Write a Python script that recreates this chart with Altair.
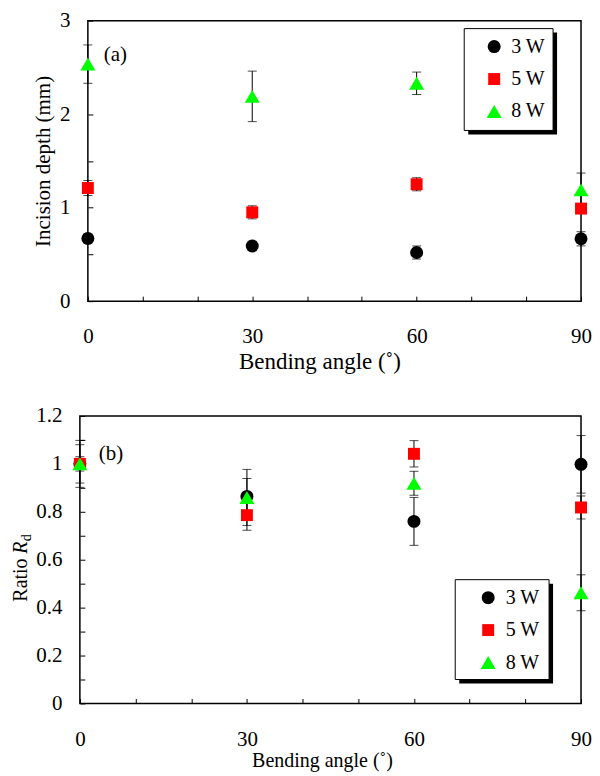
import altair as alt
import pandas as pd

FONT = "Liberation Serif"

angles = [0, 30, 60, 90]
series_names = ["3 W", "5 W", "8 W"]
series_colors = ["#000000", "#ff0000", "#00ff00"]
# unit-box symbol paths: circle 13 px, square 12 px, triangle 15x13 px at size 169
series_shapes = ["circle", "M-0.92,-0.92H0.92V0.92H-0.92Z", "M0,-1L1.154,1L-1.154,1Z"]

# (a) incision depth (mm)
depth_3w = [0.67, 0.59, 0.52, 0.667]
depth_3w_err = [0.05, 0.05, 0.07, 0.076]
depth_5w = [1.21, 0.95, 1.25, 0.99]
depth_5w_err = [0.08, 0.07, 0.07, 0.05]
depth_8w = [2.535, 2.19, 2.33, 1.19]
depth_8w_err = [0.205, 0.27, 0.12, 0.18]

# (b) ratio Rd
ratio_3w = [1.0, 0.864, 0.76, 0.998]
ratio_3w_err = [0.08, 0.075, 0.10, 0.12]
ratio_5w = [1.0, 0.786, 1.042, 0.818]
ratio_5w_err = [0.03, 0.063, 0.055, 0.048]
ratio_8w = [1.0, 0.86, 0.919, 0.462]
ratio_8w_err = [0.098, 0.117, 0.05, 0.075]

depth_ticks = [0, 0.5, 1, 1.5, 2, 2.5, 3]
ratio_ticks = [round(i * 0.1, 1) for i in range(13)]
angle_ticks = list(range(0, 91, 10))


def build_df(values_list, errs_list):
    rows = []
    for name, vals, errs in zip(series_names, values_list, errs_list):
        for a, v, e in zip(angles, vals, errs):
            rows.append({"angle": a, "series": name, "value": v,
                         "lo": v - e, "hi": v + e})
    return pd.DataFrame(rows)


depth_df = build_df([depth_3w, depth_5w, depth_8w],
                    [depth_3w_err, depth_5w_err, depth_8w_err])
ratio_df = build_df([ratio_3w, ratio_5w, ratio_8w],
                    [ratio_3w_err, ratio_5w_err, ratio_8w_err])
one = pd.DataFrame({"k": [0]})


def panel(df, ymax, yticks, ylabel_expr, ytitle, title_x, title_size,
          xlabel_pad, xtitle_pad, leg_x, leg_y, leg_off, box, tag, tag_pos,
          left_ext, width, height, inset=0, extra=None):
    xaxis = alt.Axis(values=angle_ticks,
                     labelExpr="datum.value % 30 == 0 ? datum.label : ''",
                     title="Bending angle (˚)", tickSize=5, offset=-5,
                     domain=False, grid=False, labelPadding=xlabel_pad,
                     labelFlush=False, titleFontSize=title_size,
                     titlePadding=xtitle_pad, titleX=title_x)
    yaxis = alt.Axis(values=yticks, labelExpr=ylabel_expr, title=ytitle,
                     tickSize=5, offset=-5 - inset, domain=False, grid=False,
                     labelFlush=False, labelPadding=18, titlePadding=6)
    xenc = alt.X("angle:Q",
                 scale=alt.Scale(domain=[0, 90], nice=False, zero=False,
                                 range=[inset, width]),
                 axis=xaxis)
    yscale = alt.Scale(domain=[0, ymax], nice=False, padding=0)
    leg = alt.Legend(title=None, orient="none", legendX=leg_x, legendY=leg_y,
                     labelFont=FONT, labelFontSize=20, labelColor="black",
                     labelOffset=leg_off, rowPadding=12.5, padding=0,
                     symbolSize=169, symbolStrokeWidth=0, symbolOpacity=1)
    bx, bx2, by, by2 = box
    border = alt.Chart(one).mark_rect(fillOpacity=0, stroke="black", strokeWidth=1.5).encode(
        x=alt.value(inset), x2=alt.value(width), y=alt.value(0), y2=alt.value(height))
    shadow = alt.Chart(one).mark_rect(color="black").encode(
        x=alt.value(bx + 4), x2=alt.value(bx2 + 4),
        y=alt.value(by + 4), y2=alt.value(by2 + 4))
    frame = alt.Chart(one).mark_rect(fill="white", stroke="black", strokeWidth=1).encode(
        x=alt.value(bx), x2=alt.value(bx2), y=alt.value(by), y2=alt.value(by2))
    bars = alt.Chart(df).mark_errorbar(ticks={"size": 9}, color="black",
                                       thickness=1).encode(
        x=xenc, y=alt.Y("lo:Q", scale=yscale, axis=yaxis), y2="hi:Q")
    points = alt.Chart(df).mark_point(filled=True, opacity=1, strokeWidth=0,
                                      size=169).encode(
        x=xenc,
        y=alt.Y("value:Q", scale=yscale, axis=yaxis),
        color=alt.Color("series:N", scale=alt.Scale(domain=series_names, range=series_colors), legend=leg),
        shape=alt.Shape("series:N", scale=alt.Scale(domain=series_names, range=series_shapes), legend=leg),
    )
    label = alt.Chart(one).mark_text(font=FONT, fontSize=21, align="left",
                                     baseline="middle", color="black").encode(
        x=alt.value(tag_pos[0]), y=alt.value(tag_pos[1]), text=alt.value(tag))
    spacer = alt.Chart(one).mark_rule(color="white", strokeWidth=1).encode(
        x=alt.value(left_ext), x2=alt.value(left_ext + 1), y=alt.value(height / 2))
    layers = [spacer, border, shadow, frame, bars, points, label]
    if extra:
        layers += extra
    return alt.layer(*layers).properties(
        width=width, height=height,
        view=alt.ViewBackground(stroke="transparent"))


top = panel(depth_df, 3, depth_ticks,
            "datum.value % 1 == 0 ? format(datum.value, '~g') : ''",
            "Incision depth (mm)", 240, 23, 24, 4,
            405, 16, 7, (385, 474, 8, 110),
            "(a)", (24, 34), -71, 502, 281, inset=8)

ratio_title = [
    alt.Chart(one).mark_text(font=FONT, fontSize=20, angle=270, align="left",
                             baseline="alphabetic", color="black").encode(
        x=alt.value(-53), y=alt.value(186), text=alt.value("Ratio")),
    alt.Chart(one).mark_text(font=FONT, fontSize=20, angle=270, align="left",
                             baseline="alphabetic", fontStyle="italic",
                             color="black").encode(
        x=alt.value(-53), y=alt.value(138), text=alt.value("R")),
    alt.Chart(one).mark_text(font=FONT, fontSize=14, angle=270, align="left",
                             baseline="alphabetic", color="black").encode(
        x=alt.value(-49), y=alt.value(125.5), text=alt.value("d")),
]

bottom = panel(ratio_df, 1.2, ratio_ticks,
               "round(datum.value * 10) % 2 == 0 ? format(datum.value, '~g') : ''",
               "", 242.5, 20, 25, 1,
               399, 172, 7.5, (376, 470, 164, 264),
               "(b)", (19, 38), -71, 502, 288, extra=ratio_title)

chart = alt.concat(top, bottom, columns=1, spacing=30).resolve_scale(
    color="independent", shape="independent"
).resolve_legend(
    color="independent", shape="independent"
).properties(padding=0, background="white").configure_view(
    stroke="transparent"
).configure_axis(
    labelFont=FONT, labelFontSize=21, labelColor="black",
    titleFont=FONT, titleFontSize=21, titleFontWeight="normal",
    titleColor="black", tickColor="black", tickWidth=1
)

chart.save("out.html", embed_options={"renderer": "svg", "actions": False})
